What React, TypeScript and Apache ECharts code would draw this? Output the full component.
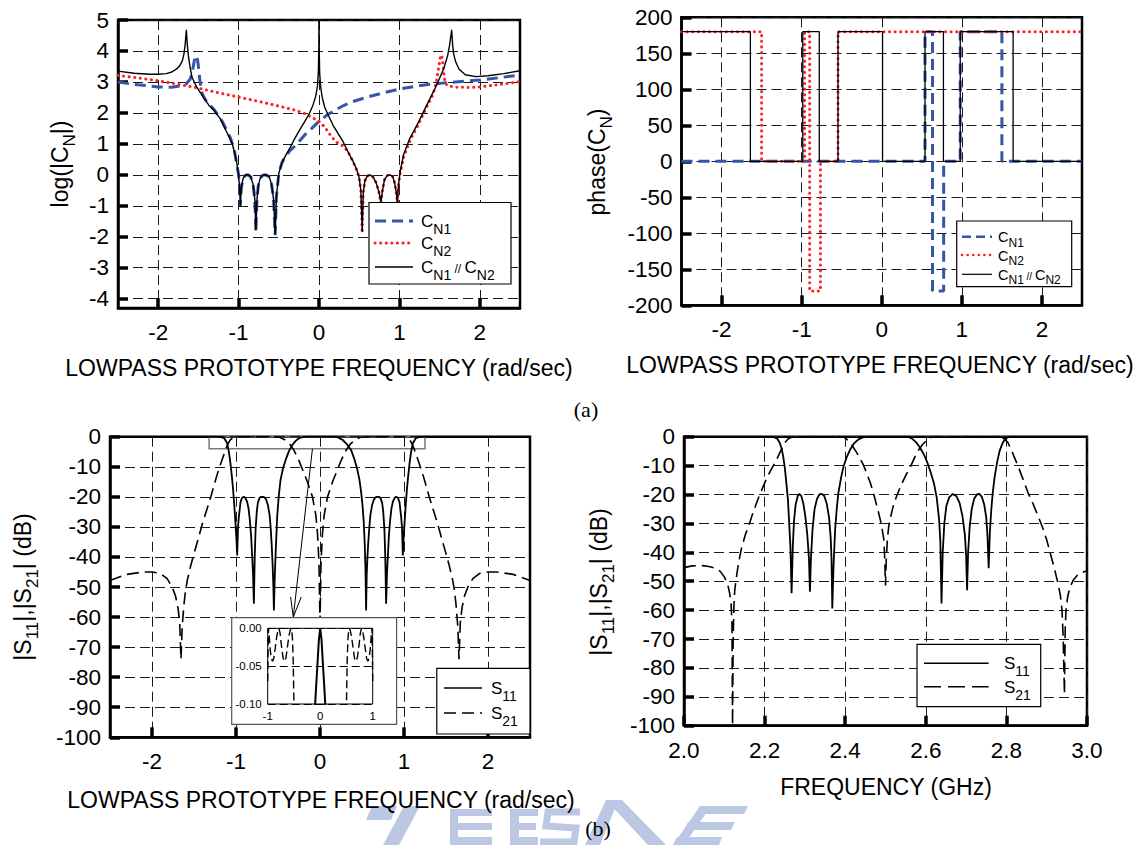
import React, { useEffect, useRef } from 'react';
import * as echarts from 'echarts';

const FONT = '"Liberation Sans", Arial, Helvetica, sans-serif';
const SERIF = '"Liberation Serif", "Times New Roman", serif';

// ---------------- tick values ----------------
const protoTicks = [-2, -1, 0, 1, 2];
const logTicks = [-4, -3, -2, -1, 0, 1, 2, 3, 4, 5];
const phaseTicks = [-200, -150, -100, -50, 0, 50, 100, 150, 200];
const dbTicks = [-100, -90, -80, -70, -60, -50, -40, -30, -20, -10, 0];
const freqTicks = [2.0, 2.2, 2.4, 2.6, 2.8, 3.0];
const zoomXTicks = [-1, 0, 1];
const zoomYTicks = [-0.1, -0.05, 0];

// ---------------- (a) left: log(|C_N|) ----------------
const cN1Log = [
  [-2.5, 3.0], [-2.3, 2.92], [-2.0, 2.84], [-1.83, 2.83], [-1.73, 2.87], [-1.65, 2.94], [-1.6, 3.1],
  [-1.57, 3.4], [-1.55, 3.7], [-1.53, 3.85], [-1.51, 3.7], [-1.495, 3.4], [-1.48, 3.0], [-1.45, 2.6],
  [-1.4, 2.37], [-1.3, 2.09], [-1.2, 1.71], [-1.1, 1.18], [-1.05, 0.75], [-1.03, 0.45], [-1.0, 0.0],
  [-0.988, -0.4], [-0.979, -1.0], [-0.965, -0.4], [-0.945, -0.12], [-0.915, -0.01], [-0.883, 0],
  [-0.85, -0.06], [-0.82, -0.3], [-0.798, -0.8], [-0.785, -1.85], [-0.772, -0.8], [-0.755, -0.35],
  [-0.73, -0.1], [-0.7, -0.01], [-0.66, 0], [-0.62, -0.06], [-0.59, -0.3], [-0.565, -0.8],
  [-0.545, -1.95], [-0.53, -0.7], [-0.5, 0.05], [-0.46, 0.4], [-0.43, 0.55], [-0.36, 0.78],
  [-0.3, 0.93], [-0.18, 1.28], [-0.09, 1.5], [0, 1.73], [0.1, 1.93], [0.2, 2.09], [0.3, 2.23],
  [0.4, 2.35], [0.6, 2.51], [0.8, 2.65], [1.0, 2.77], [1.2, 2.86], [1.4, 2.93], [1.6, 2.98],
  [1.8, 3.02], [2.0, 3.06], [2.25, 3.14], [2.5, 3.22],
];
const cN2Log = [
  [-2.5, 3.21], [-2.25, 3.13], [-2.0, 3.04], [-1.75, 2.92], [-1.5, 2.8], [-1.25, 2.65], [-1.0, 2.51],
  [-0.75, 2.37], [-0.5, 2.22], [-0.3, 2.09], [-0.18, 1.98], [-0.1, 1.87], [0, 1.73], [0.07, 1.55],
  [0.15, 1.25], [0.22, 1.05], [0.3, 0.93], [0.36, 0.75], [0.42, 0.45], [0.47, 0.15], [0.5, -0.1],
  [0.52, -0.5], [0.5375, -1.88], [0.55, -0.6], [0.57, -0.2], [0.6, -0.04], [0.633, 0], [0.67, -0.06],
  [0.71, -0.25], [0.745, -0.55], [0.77, -0.9], [0.79, -0.5], [0.815, -0.15], [0.85, -0.02], [0.883, 0],
  [0.915, -0.05], [0.94, -0.25], [0.96, -0.55], [0.975, -0.9], [0.99, -0.3], [1.01, 0.05], [1.05, 0.55],
  [1.13, 1.1], [1.24, 1.65], [1.34, 2.2], [1.42, 2.6], [1.46, 3.0], [1.49, 3.5], [1.51, 3.8],
  [1.525, 3.87], [1.54, 3.6], [1.555, 3.2], [1.57, 2.95], [1.6, 2.88], [1.7, 2.83], [1.9, 2.82],
  [2.0, 2.84], [2.25, 2.92], [2.5, 3.01],
];
const cParLog = [
  [-2.5, 3.35], [-2.3, 3.28], [-2.1, 3.25], [-2.0, 3.25], [-1.9, 3.27], [-1.83, 3.32], [-1.77, 3.42],
  [-1.73, 3.53], [-1.7, 3.68], [-1.68, 3.9], [-1.665, 4.2], [-1.65, 4.68], [-1.638, 4.2], [-1.625, 3.85],
  [-1.605, 3.5], [-1.58, 3.15], [-1.52, 2.83], [-1.44, 2.51], [-1.37, 2.25], [-1.31, 2.1], [-1.23, 1.82],
  [-1.15, 1.39], [-1.08, 1.02], [-1.03, 0.5], [-1.0, 0.0], [-0.988, -0.4], [-0.979, -1.0], [-0.965, -0.4],
  [-0.945, -0.12], [-0.915, -0.01], [-0.883, 0], [-0.85, -0.06], [-0.82, -0.3], [-0.798, -0.8],
  [-0.785, -1.8], [-0.772, -0.8], [-0.755, -0.35], [-0.73, -0.1], [-0.7, -0.01], [-0.66, 0],
  [-0.62, -0.06], [-0.59, -0.3], [-0.565, -0.8], [-0.545, -1.92], [-0.53, -0.7], [-0.5, 0.05],
  [-0.46, 0.4], [-0.43, 0.55], [-0.36, 0.88], [-0.3, 1.18], [-0.24, 1.45], [-0.18, 1.71],
  [-0.12, 1.98], [-0.075, 2.25], [-0.04, 2.55], [-0.02, 2.85], [-0.008, 3.3], [-0.002, 4.2], [0, 6],
  [0.002, 4.2], [0.008, 3.3], [0.02, 2.85], [0.04, 2.5], [0.07, 2.19], [0.12, 1.9], [0.175, 1.6],
  [0.24, 1.32], [0.3, 1.07], [0.38, 0.64], [0.43, 0.4], [0.47, 0.16], [0.5, -0.1], [0.52, -0.5],
  [0.5375, -1.85], [0.55, -0.6], [0.57, -0.2], [0.6, -0.04], [0.633, 0], [0.67, -0.06], [0.71, -0.25],
  [0.745, -0.55], [0.77, -0.88], [0.79, -0.5], [0.815, -0.15], [0.85, -0.02], [0.883, 0], [0.915, -0.05],
  [0.94, -0.25], [0.96, -0.55], [0.975, -0.88], [0.99, -0.3], [1.01, 0.1], [1.05, 0.64], [1.13, 1.18],
  [1.24, 1.71], [1.34, 2.25], [1.45, 2.83], [1.55, 3.42], [1.6, 3.85], [1.625, 4.2], [1.65, 4.68],
  [1.662, 4.2], [1.675, 3.9], [1.7, 3.65], [1.74, 3.42], [1.82, 3.23], [1.95, 3.17], [2.1, 3.2],
  [2.3, 3.27], [2.5, 3.36],
];

// ---------------- (a) right: phase(C_N) ----------------
const cN1Phase = [
  [-2.5, 0], [0.54, 0], [0.54, 180], [0.634, 180], [0.634, -180], [0.773, -180], [0.773, 0],
  [0.98, 0], [0.98, 180], [1.5, 180], [1.5, 0], [2.5, 0],
];
const cN2Phase = [
  [-2.5, 180], [-1.5, 180], [-1.5, 0], [-0.963, 0], [-0.963, 180], [-0.9, 180], [-0.9, -180],
  [-0.765, -180], [-0.765, 0], [-0.546, 0], [-0.546, 180], [2.5, 180],
];
const cParPhase = [
  [-2.5, 180], [-1.64, 180], [-1.64, 0], [-0.986, 0], [-0.986, 180], [-0.78, 180], [-0.78, 0],
  [-0.546, 0], [-0.546, 180], [0.01, 180], [0.01, 0], [0.54, 0], [0.54, 180], [0.77, 180], [0.77, 0],
  [0.98, 0], [0.98, 180], [1.64, 180], [1.64, 0], [2.5, 0],
];

// ---------------- (b) left: lowpass prototype ----------------
const s11Proto = [
  [-2.5, 0], [-1.2, 0], [-1.14, -0.5], [-1.105, -2.2], [-1.085, -5], [-1.066, -8.9], [-1.05, -13],
  [-1.034, -17.8], [-1.02, -23], [-1.006, -28.9], [-0.995, -34], [-0.986, -39.5], [-0.976, -30],
  [-0.966, -26.7], [-0.946, -21.7], [-0.927, -20.3], [-0.907, -20], [-0.887, -20.4], [-0.867, -21.7],
  [-0.85, -24], [-0.835, -27.8], [-0.82, -33], [-0.807, -40], [-0.797, -46], [-0.787, -55.6],
  [-0.777, -40], [-0.767, -31], [-0.753, -25], [-0.74, -22], [-0.72, -20.4], [-0.7, -20], [-0.68, -20],
  [-0.66, -20.2], [-0.64, -21], [-0.62, -22.8], [-0.6, -26], [-0.588, -30], [-0.575, -36], [-0.565, -42],
  [-0.555, -50], [-0.549, -57.8], [-0.54, -48], [-0.53, -40], [-0.51, -26.7], [-0.49, -19.5],
  [-0.47, -14.4], [-0.44, -10.5], [-0.41, -7.8], [-0.37, -4.8], [-0.33, -2.8], [-0.29, -1.4],
  [-0.25, -0.5], [-0.2, -0.1], [-0.15, 0], [0.17, 0], [0.22, -0.3], [0.27, -1.1], [0.32, -2.5],
  [0.37, -4.4], [0.41, -7.5], [0.445, -11], [0.47, -14.4], [0.49, -18.5], [0.505, -22.5], [0.52, -28],
  [0.533, -36], [0.542, -45], [0.549, -57.8], [0.556, -46], [0.565, -40], [0.575, -35], [0.588, -30],
  [0.6, -26], [0.62, -22.8], [0.64, -21], [0.66, -20.2], [0.68, -20], [0.7, -20], [0.72, -20.4],
  [0.74, -22], [0.753, -25], [0.767, -31], [0.777, -40], [0.787, -55.6], [0.797, -46], [0.807, -40],
  [0.82, -33], [0.835, -27.8], [0.85, -24], [0.867, -21.7], [0.887, -20.4], [0.907, -20], [0.927, -20.3],
  [0.946, -21.7], [0.966, -26.7], [0.976, -30], [0.986, -39.5], [0.995, -34], [1.006, -28.9],
  [1.02, -23], [1.034, -17.8], [1.05, -13], [1.066, -8.9], [1.085, -5], [1.105, -2.2], [1.14, -0.5],
  [1.2, 0], [2.5, 0],
];
const s21Proto = [
  [-2.5, -47.8], [-2.3, -45.8], [-2.1, -45], [-2.0, -45], [-1.9, -45.5], [-1.82, -47.2], [-1.76, -50],
  [-1.72, -53], [-1.69, -57], [-1.67, -62], [-1.655, -74], [-1.64, -63], [-1.62, -56], [-1.6, -51],
  [-1.58, -47.8], [-1.54, -43], [-1.5, -38.9], [-1.45, -34], [-1.4, -28.9], [-1.35, -24.5], [-1.3, -20],
  [-1.26, -16], [-1.22, -12.2], [-1.17, -8], [-1.125, -4.4], [-1.1, -2.6], [-1.07, -1.1], [-1.03, -0.2],
  [-0.986, 0], [-0.549, 0], [-0.48, -0.2], [-0.42, -1], [-0.36, -2.5], [-0.31, -4.5], [-0.25, -8],
  [-0.2, -11.5], [-0.15, -15], [-0.09, -20], [-0.05, -26], [-0.03, -32], [-0.012, -42], [0, -62],
  [0.012, -42], [0.03, -32], [0.05, -26], [0.09, -20], [0.15, -15], [0.2, -11.5], [0.25, -8],
  [0.31, -4.5], [0.36, -2.5], [0.42, -1], [0.48, -0.2], [0.549, 0], [0.986, 0], [1.03, -0.2],
  [1.07, -1.1], [1.1, -2.6], [1.125, -4.4], [1.17, -8], [1.22, -12.2], [1.26, -16], [1.3, -20],
  [1.35, -24.5], [1.4, -28.9], [1.45, -34], [1.5, -38.9], [1.54, -43], [1.58, -47.8], [1.6, -51],
  [1.62, -56], [1.64, -63], [1.655, -74], [1.67, -62], [1.69, -57], [1.72, -53], [1.76, -50],
  [1.82, -47.2], [1.9, -45.5], [2.0, -45], [2.1, -45], [2.3, -45.8], [2.5, -47.8],
];
// highlighted zoom region and arrow (data coordinates)
const zoomBox = [[-1.32, 0], [1.25, -4]];
const arrowTail = [-0.09, -4];
const arrowTip = [-0.318, -60];
const arrowWings = [[-0.35, -53.3], [-0.223, -53.3]];

// inset (zoom of passband top)
const s11Zoom = [
  [-0.12, -0.13], [-0.08, -0.08], [-0.05, -0.045], [-0.025, -0.015], [0, 0], [0.025, -0.015],
  [0.05, -0.045], [0.08, -0.08], [0.12, -0.13],
];
const s21Zoom = [
  [-1.0, -0.07], [-0.993, -0.025], [-0.986, 0], [-0.97, -0.012], [-0.95, -0.03], [-0.93, -0.04],
  [-0.907, -0.0436], [-0.885, -0.04], [-0.86, -0.028], [-0.83, -0.012], [-0.805, -0.003], [-0.787, 0],
  [-0.765, -0.006], [-0.74, -0.022], [-0.71, -0.038], [-0.685, -0.0436], [-0.655, -0.04], [-0.625, -0.025],
  [-0.595, -0.01], [-0.57, -0.002], [-0.549, 0], [-0.53, -0.012], [-0.515, -0.04], [-0.5, -0.1],
  [-0.49, -0.16], [0, -62], [0.49, -0.16], [0.5, -0.1], [0.515, -0.04], [0.53, -0.012], [0.549, 0],
  [0.57, -0.002], [0.595, -0.01], [0.625, -0.025], [0.655, -0.04], [0.685, -0.0436], [0.71, -0.038],
  [0.74, -0.022], [0.765, -0.006], [0.787, 0], [0.805, -0.003], [0.83, -0.012], [0.86, -0.028],
  [0.885, -0.04], [0.907, -0.0436], [0.93, -0.04], [0.95, -0.03], [0.97, -0.012], [0.986, 0],
  [0.993, -0.025], [1.0, -0.07],
];

// ---------------- (b) right: bandpass, GHz ----------------
const s11Freq = [
  [2.0, 0], [2.222, 0], [2.232, -0.8], [2.2375, -2.1], [2.242, -4], [2.246, -6.7], [2.25, -10.5],
  [2.254, -16], [2.258, -22], [2.261, -29.9], [2.264, -38], [2.267, -54.2], [2.27, -38], [2.273, -29],
  [2.277, -23.5], [2.282, -20.6], [2.286, -19.8], [2.291, -20.5], [2.296, -23], [2.301, -27.5],
  [2.306, -34], [2.31, -42], [2.3125, -53.6], [2.315, -42], [2.319, -32], [2.324, -25], [2.33, -21.5],
  [2.336, -20], [2.342, -19.8], [2.348, -20.5], [2.354, -23], [2.36, -28], [2.364, -35], [2.366, -42],
  [2.368, -59.4], [2.371, -45], [2.375, -32.2], [2.379, -25], [2.383, -19.5], [2.39, -14], [2.396, -10.2],
  [2.404, -7], [2.4125, -4.4], [2.422, -2.3], [2.433, -0.9], [2.445, -0.2], [2.4625, 0], [2.555, 0],
  [2.565, -0.6], [2.575, -1.8], [2.583, -3.2], [2.594, -5.8], [2.604, -9], [2.612, -12.3], [2.62, -16],
  [2.627, -21], [2.633, -28.7], [2.636, -36], [2.639, -57.7], [2.642, -40], [2.646, -30], [2.651, -24],
  [2.658, -21], [2.667, -19.8], [2.676, -20.6], [2.684, -23], [2.691, -27.5], [2.697, -34], [2.7, -41],
  [2.7025, -53.1], [2.705, -40], [2.709, -31], [2.714, -25], [2.72, -21.5], [2.727, -20], [2.733, -19.8],
  [2.739, -20.8], [2.745, -23.5], [2.75, -28], [2.753, -34], [2.756, -45.5], [2.759, -33], [2.7625, -25.3],
  [2.766, -19.5], [2.771, -13.7], [2.777, -8.8], [2.783, -5], [2.79, -2.4], [2.796, -0.9], [2.804, -0.2],
  [2.8125, 0], [3.0, 0],
];
const s21Freq = [
  [2.0, -45.3], [2.02, -44.7], [2.046, -44.6], [2.065, -45], [2.079, -45.6], [2.09, -46.6], [2.1, -48.5],
  [2.108, -50.8], [2.113, -54], [2.117, -58], [2.119, -65], [2.1205, -99.8], [2.122, -70], [2.124, -58],
  [2.126, -53], [2.129, -49.6], [2.135, -44], [2.142, -39], [2.152, -34], [2.1625, -30], [2.172, -26],
  [2.183, -21.8], [2.2, -16], [2.21, -13], [2.221, -10.2], [2.23, -7.8], [2.2375, -5.6], [2.245, -3.5],
  [2.25, -2.1], [2.258, -0.8], [2.268, -0.1], [2.28, 0], [2.395, 0], [2.402, -0.6], [2.408, -1.5],
  [2.418, -3.2], [2.429, -5.6], [2.446, -10], [2.4625, -16], [2.472, -20.5], [2.483, -26.4], [2.49, -30.5],
  [2.496, -35.7], [2.498, -42], [2.5, -51.5], [2.502, -42], [2.505, -35], [2.508, -31], [2.514, -27],
  [2.521, -23], [2.5375, -17.1], [2.55, -13.5], [2.5625, -10.2], [2.573, -7], [2.583, -4.4], [2.592, -2.7],
  [2.6, -1.5], [2.61, -0.5], [2.62, 0], [2.785, 0], [2.795, -0.7], [2.804, -2.1], [2.815, -5.5],
  [2.829, -10.2], [2.842, -15], [2.854, -19.5], [2.867, -23.5], [2.879, -27.6], [2.89, -31.5], [2.9, -35.7],
  [2.909, -40.4], [2.918, -45], [2.928, -50.7], [2.934, -55], [2.938, -60], [2.941, -70], [2.944, -89],
  [2.946, -66], [2.948, -60], [2.952, -55.4], [2.958, -52], [2.966, -49.6], [2.98, -47.3], [3.0, -46.4],
];

// ---------------- styles ----------------
const BLUE = '#3356a8';
const RED = '#ff1f1f';
const WM = '#bcc7e4';
const DASH_BLUE = [11, 6];
const DOTS = [0.1, 5.5];
const DASH_S21 = [12, 6];
const TICK_FONT = 22.5;

function xAxisMain(gridIndex: number, min: number, max: number, ticks: number[], fmt?: (v: number) => string) {
  return {
    type: 'value', gridIndex, min, max, position: 'bottom', z: 3,
    axisLine: { show: true, onZero: false, lineStyle: { color: '#000', width: 2.5 } },
    axisTick: { show: true, inside: true, length: 10, lineStyle: { color: '#000', width: 3.5 }, customValues: ticks },
    axisLabel: { customValues: ticks, color: '#000', fontSize: TICK_FONT, fontFamily: FONT, margin: 13, formatter: fmt },
    splitLine: { show: true, lineStyle: { color: '#1a1a1a', width: 1, type: [10, 5] } },
  };
}
function yAxisMain(gridIndex: number, min: number, max: number, ticks: number[]) {
  return {
    type: 'value', gridIndex, min, max, position: 'left', z: 3,
    axisLine: { show: true, onZero: false, lineStyle: { color: '#000', width: 2.5 } },
    axisTick: { show: true, inside: true, length: 10, lineStyle: { color: '#000', width: 3.5 }, customValues: ticks },
    axisLabel: { customValues: ticks, color: '#000', fontSize: TICK_FONT, fontFamily: FONT, margin: 9 },
    splitLine: { show: true, lineStyle: { color: '#1a1a1a', width: 1, type: [10, 5] } },
  };
}
function line(data: number[][], idx: number, color: string, width: number, type: any, extra: any = {}) {
  return {
    type: 'line', xAxisIndex: idx, yAxisIndex: idx, data, showSymbol: false, symbol: 'none',
    silent: true, clip: true, animation: false,
    lineStyle: { color, width, type, cap: type === DOTS ? 'round' : 'butt' },
    ...extra,
  };
}

const titleRich = {
  a: { fontSize: 23, lineHeight: 25, fontFamily: FONT, fill: '#000', verticalAlign: 'top' },
  s: { fontSize: 17, lineHeight: 17, fontFamily: FONT, fill: '#000', verticalAlign: 'top', padding: [12, 0, 0, 0] },
};
function legRich(main: number, sub: number) {
  return {
    a: { fontSize: main, lineHeight: main + 2, fontFamily: FONT, fill: '#000', verticalAlign: 'top' },
    s: { fontSize: sub, lineHeight: sub, fontFamily: FONT, fill: '#000', verticalAlign: 'top', padding: [Math.round(main * 0.5), 0, 0, 0] },
    b: { fontSize: Math.round(main * 0.7), lineHeight: Math.round(main * 0.7), fontFamily: FONT, fill: '#000', verticalAlign: 'top', padding: [Math.round(main * 0.25), 0, 0, 0] },
  };
}
function txt(x: number, y: number, text: string, rich: any, rotation = 0, z = 20) {
  return {
    type: 'text', x, y, rotation, z, silent: true,
    style: { text, rich, fill: '#000', fontFamily: FONT, fontSize: 23, align: 'center', verticalAlign: 'middle', textAlign: 'center', textVerticalAlign: 'middle' },
  };
}
function plain(x: number, y: number, text: string, size: number, family = FONT, z = 20) {
  return {
    type: 'text', x, y, z, silent: true,
    style: { text, fill: '#000', fontFamily: family, fontSize: size, align: 'center', verticalAlign: 'middle', textAlign: 'center', textVerticalAlign: 'middle' },
  };
}
function legLine(x1: number, x2: number, y: number, color: string, width: number, dash: any) {
  return {
    type: 'line', z: 21, silent: true, shape: { x1, y1: y, x2, y2: y },
    style: { stroke: color, lineWidth: width, lineDash: dash || null, lineCap: dash === DOTS ? 'round' : 'butt' },
  };
}
function legText(x: number, y: number, text: string, rich: any) {
  return {
    type: 'text', x, y, z: 21, silent: true,
    style: { text, rich, fill: '#000', fontFamily: FONT, align: 'left', verticalAlign: 'middle', textAlign: 'left', textVerticalAlign: 'middle' },
  };
}
function box(x: number, y: number, w: number, h: number, stroke = '#000', z = 20) {
  return { type: 'rect', z, silent: true, shape: { x, y, width: w, height: h }, style: { fill: '#fff', stroke, lineWidth: 1.2 } };
}

function buildOption() {
  const r1 = legRich(17, 14);
  const r2 = legRich(14.5, 12);
  const graphics: any[] = [];

  // watermark
  const wm: number[][][] = [
    [[372, 806], [397, 806], [391, 820], [366, 820]],
    [[404, 806], [420, 806], [399, 845], [383, 845]],
    [[450, 809], [458, 809], [458, 845], [450, 845]],
    [[450, 809], [492, 809], [492, 816], [450, 816]],
    [[450, 823], [492, 823], [492, 830], [450, 830]],
    [[450, 837], [492, 837], [492, 845], [450, 845]],
    [[510, 809], [519, 809], [519, 845], [510, 845]],
    [[510, 809], [538, 809], [538, 816], [510, 816]],
    [[510, 823], [536, 823], [536, 830], [510, 830]],
    [[510, 837], [538, 837], [538, 845], [510, 845]],
    [[606, 800], [622, 800], [666, 845], [648, 845]],
    [[606, 800], [616, 806], [600, 845], [585, 845]],
    [[700, 806], [748, 806], [744, 814], [696, 814]],
    [[688, 822], [735, 822], [731, 830], [684, 830]],
    [[677, 837], [722, 837], [719, 845], [673, 845]],
    [[700, 806], [711, 806], [684, 845], [673, 845]],
  ];
  wm.forEach((p) => graphics.push({ type: 'polygon', z: 1, silent: true, shape: { points: p }, style: { fill: WM } }));
  graphics.push({ type: 'polyline', z: 1, silent: true, shape: { points: [[580, 812], [548, 812], [546, 826], [576, 828], [574, 842], [540, 842]] }, style: { stroke: WM, lineWidth: 7, fill: null } });

  // axis titles
  graphics.push(txt(61, 164, '{a|log(|C}{s|N}{a||)}', titleRich, Math.PI / 2));
  graphics.push(plain(319, 368, 'LOWPASS PROTOTYPE FREQUENCY (rad/sec)', 23));
  graphics.push(txt(598, 162, '{a|phase(C}{s|N}{a|)}', titleRich, Math.PI / 2));
  graphics.push(plain(880, 365, 'LOWPASS PROTOTYPE FREQUENCY (rad/sec)', 23));
  graphics.push(txt(24, 587, '{a||S}{s|11}{a||,|S}{s|21}{a|| (dB)}', titleRich, Math.PI / 2));
  graphics.push(plain(321, 800, 'LOWPASS PROTOTYPE FREQUENCY (rad/sec)', 23));
  graphics.push(txt(600, 582, '{a||S}{s|11}{a||,|S}{s|21}{a|| (dB)}', titleRich, Math.PI / 2));
  graphics.push(plain(886, 787, 'FREQUENCY (GHz)', 23));
  graphics.push(plain(586, 409, '(a)', 22, SERIF));
  graphics.push(plain(598, 828, '(b)', 22, SERIF));

  // legend (a) left
  graphics.push(box(369, 202.5, 142, 81.5));
  graphics.push(legLine(375, 413, 221, BLUE, 3, DASH_BLUE));
  graphics.push(legLine(375, 413, 243, RED, 3, DOTS));
  graphics.push(legLine(375, 413, 267, '#000', 1.4, null));
  graphics.push(legText(421, 222.5, '{a|C}{s|N1}', r1));
  graphics.push(legText(421, 244.5, '{a|C}{s|N2}', r1));
  graphics.push(legText(421, 268.5, '{a|C}{s|N1}{b| // }{a|C}{s|N2}', r1));

  // legend (a) right
  graphics.push(box(956.7, 221, 115, 65.7));
  graphics.push(legLine(962, 992, 236.7, BLUE, 2.6, [9, 5]));
  graphics.push(legLine(962, 992, 255, RED, 2.6, DOTS));
  graphics.push(legLine(962, 992, 274.3, '#000', 1.2, null));
  graphics.push(legText(998, 238, '{a|C}{s|N1}', r2));
  graphics.push(legText(998, 256.3, '{a|C}{s|N2}', r2));
  graphics.push(legText(998, 275.6, '{a|C}{s|N1}{b| // }{a|C}{s|N2}', r2));

  // legend (b) left
  graphics.push(box(436.8, 668.3, 93.2, 65.7));
  graphics.push(legLine(444, 482, 688, '#000', 1.6, null));
  graphics.push(legLine(444, 482, 713, '#000', 1.6, [12, 6]));
  graphics.push(legText(491, 689.5, '{a|S}{s|11}', r1));
  graphics.push(legText(491, 714.5, '{a|S}{s|21}', r1));

  // legend (b) right
  graphics.push(box(917, 644.3, 123.7, 62.4));
  graphics.push(legLine(924, 988.6, 663.3, '#000', 1.6, null));
  graphics.push(legLine(924, 988.6, 686.7, '#000', 1.6, [17, 7]));
  graphics.push(legText(1004, 664.8, '{a|S}{s|11}', r1));
  graphics.push(legText(1004, 688.2, '{a|S}{s|21}', r1));

  // inset outer box
  graphics.push(box(231.7, 617.7, 164.9, 106.6, '#555', 10));

  const gridBase = { show: true, borderColor: '#000', borderWidth: 2.5, backgroundColor: 'transparent', containLabel: false, outerBoundsMode: 'none' };

  return {
    animation: false,
    backgroundColor: '#fff',
    grid: [
      { ...gridBase, left: 118, top: 20, width: 402, height: 288 },
      { ...gridBase, left: 681.5, top: 17.3, width: 400.5, height: 288 },
      { ...gridBase, left: 110, top: 436.7, width: 420, height: 300.6 },
      { ...gridBase, left: 684, top: 436.7, width: 403, height: 289 },
      { show: true, left: 267.7, top: 628.3, width: 105, height: 75.7, z: 11, borderColor: '#000', borderWidth: 1, backgroundColor: '#fff', containLabel: false, outerBoundsMode: 'none' },
    ],
    xAxis: [
      xAxisMain(0, -2.5, 2.5, protoTicks),
      xAxisMain(1, -2.5, 2.5, protoTicks),
      xAxisMain(2, -2.5, 2.5, protoTicks),
      xAxisMain(3, 2.0, 3.0, freqTicks, (v: number) => v.toFixed(1)),
      {
        type: 'value', gridIndex: 4, min: -1, max: 1, z: 12, position: 'bottom',
        axisLine: { show: false, onZero: false }, axisTick: { show: false, customValues: zoomXTicks },
        axisLabel: { customValues: zoomXTicks, color: '#000', fontSize: 11.5, fontFamily: FONT, margin: 6 },
        splitLine: { show: false },
      },
    ],
    yAxis: [
      yAxisMain(0, -4.3, 5, logTicks),
      yAxisMain(1, -200, 200, phaseTicks),
      yAxisMain(2, -100, 0, dbTicks),
      yAxisMain(3, -100, 0, dbTicks),
      {
        type: 'value', gridIndex: 4, min: -0.1, max: 0, z: 12, position: 'left',
        axisLine: { show: false, onZero: false }, axisTick: { show: false, customValues: zoomYTicks },
        axisLabel: { customValues: zoomYTicks, color: '#000', fontSize: 11.5, fontFamily: FONT, margin: 6, formatter: (v: number) => v.toFixed(2) },
        splitLine: { show: true, lineStyle: { color: '#000', width: 1, type: [8, 4] } },
      },
    ],
    series: [
      line(cN1Log, 0, BLUE, 3, DASH_BLUE),
      line(cN2Log, 0, RED, 3, DOTS),
      line(cParLog, 0, '#000', 1.4, 'solid'),
      line(cN1Phase, 1, BLUE, 3, DASH_BLUE),
      line(cN2Phase, 1, RED, 3, DOTS),
      line(cParPhase, 1, '#000', 1.3, 'solid'),
      line(s21Proto, 2, '#000', 1.6, DASH_S21),
      line(s11Proto, 2, '#000', 1.8, 'solid', {
        markArea: {
          silent: true,
          itemStyle: { color: 'rgba(0,0,0,0)', borderColor: '#7a7a7a', borderWidth: 1.5 },
          data: [[{ coord: zoomBox[0] }, { coord: zoomBox[1] }]],
        },
        markLine: {
          silent: true, symbol: ['none', 'none'], label: { show: false },
          lineStyle: { color: '#000', width: 1, type: 'solid' },
          data: [
            [{ coord: arrowTail }, { coord: arrowTip }],
            [{ coord: arrowWings[0] }, { coord: arrowTip }],
            [{ coord: arrowWings[1] }, { coord: arrowTip }],
          ],
        },
      }),
      line(s21Freq, 3, '#000', 1.6, DASH_S21),
      line(s11Freq, 3, '#000', 1.8, 'solid'),
      line(s21Zoom, 4, '#000', 1.4, [8, 4], { z: 13 }),
      line(s11Zoom, 4, '#000', 2, 'solid', { z: 13 }),
    ],
    graphic: { elements: graphics },
  };
}

export default function App() {
  const ref = useRef<HTMLDivElement>(null);
  useEffect(() => {
    const chart = echarts.init(ref.current as HTMLDivElement, null, { renderer: 'svg' });
    chart.setOption(buildOption() as any);
    return () => chart.dispose();
  }, []);
  return (
    <div
      ref={ref}
      style={{ position: 'absolute', left: 0, top: 0, width: 1140, height: 845, background: '#fff' }}
    />
  );
}
